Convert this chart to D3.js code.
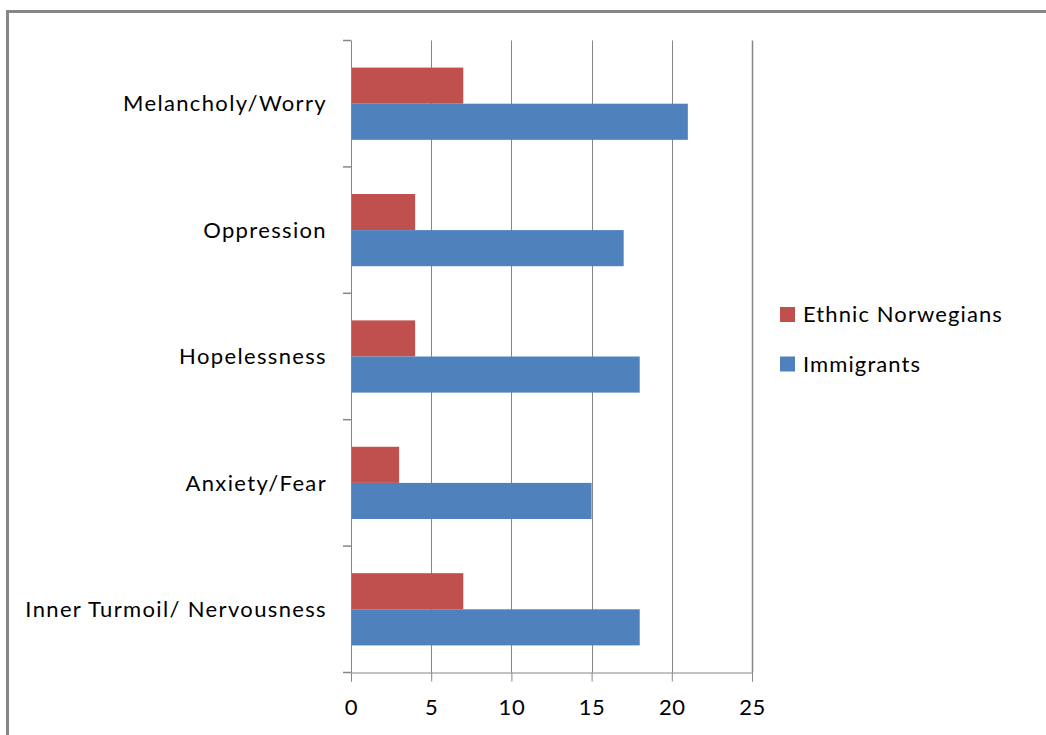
<!DOCTYPE html>
<html>
<head>
<meta charset="utf-8">
<script src="https://cdn.jsdelivr.net/npm/d3@7"></script>
<style>
  html, body { margin: 0; padding: 0; background: #fff; }
  svg text { font-family: Lato, "Open Sans", sans-serif; fill: #000; }
</style>
</head>
<body>
<svg id="chart" width="1046" height="735"></svg>
<script>
// Symptom categories, top to bottom
const categories = [
  "Melancholy/Worry",
  "Oppression",
  "Hopelessness",
  "Anxiety/Fear",
  "Inner Turmoil/ Nervousness"
];
const seriesNames = ["Ethnic Norwegians", "Immigrants"];
const ethnicNorwegians = [7, 4, 4, 3, 7];
const immigrants = [21, 17, 18, 15, 18];
const xTicks = [0, 5, 10, 15, 20, 25];
const seriesColors = ["#c0504d", "#4f81bd"];

const svg = d3.select("#chart");
const gridColor = "#868686";

// outer frame
svg.append("rect")
  .attr("x", 7.5).attr("y", 11.5)
  .attr("width", 1100).attr("height", 800)
  .attr("fill", "none").attr("stroke", gridColor).attr("stroke-width", 3);

const plot = { left: 351, right: 752, top: 40.5, bottom: 672.5 };

const x = d3.scaleLinear().domain([0, 25]).range([plot.left, plot.right]);
const y0 = d3.scaleBand().domain(categories).range([plot.top, plot.bottom]).padding(0);
const y1 = d3.scaleBand().domain(seriesNames).range([0, y0.bandwidth()])
  .paddingInner(0).paddingOuter(0.75);

const rows = categories.map((c, i) => ({
  category: c,
  values: [
    { series: seriesNames[0], value: ethnicNorwegians[i] },
    { series: seriesNames[1], value: immigrants[i] }
  ]
}));

// vertical gridlines
svg.append("g")
  .selectAll("line")
  .data(xTicks.filter(t => t > 0))
  .join("line")
  .attr("x1", d => Math.round(x(d)) + 0.5).attr("x2", d => Math.round(x(d)) + 0.5)
  .attr("y1", plot.top).attr("y2", plot.bottom)
  .attr("stroke", gridColor).attr("stroke-width", d => d === 25 ? 1.5 : 1);

// bars
const groups = svg.append("g")
  .selectAll("g")
  .data(rows)
  .join("g")
  .attr("transform", d => `translate(0,${y0(d.category)})`);

groups.selectAll("rect")
  .data(d => d.values)
  .join("rect")
  .attr("x", x(0))
  .attr("y", d => y1(d.series))
  .attr("width", d => x(d.value) - x(0))
  .attr("height", y1.bandwidth())
  .attr("fill", (d, i) => seriesColors[i]);

// bottom value axis
const xAxis = d3.axisBottom(x).tickValues(xTicks).tickSize(9).tickPadding(18);
const gx = svg.append("g")
  .attr("transform", `translate(0,${plot.bottom})`)
  .call(xAxis);
gx.select(".domain").attr("stroke", gridColor);
gx.selectAll(".tick line").attr("stroke", gridColor);
gx.selectAll(".tick text").style("font-size", "22px")
  .style("letter-spacing", "0.6px")
  .style("font-family", "Lato, 'Open Sans', sans-serif").attr("fill", "#000");

// left category axis: tick marks on band boundaries
const boundaries = d3.range(categories.length + 1).map(i => plot.top + i * y0.step());
svg.append("line")
  .attr("x1", plot.left + 0.5).attr("x2", plot.left + 0.5)
  .attr("y1", plot.top).attr("y2", plot.bottom)
  .attr("stroke", gridColor);
svg.append("g").selectAll("line")
  .data(boundaries)
  .join("line")
  .attr("x1", plot.left - 8).attr("x2", plot.left)
  .attr("y1", d => d).attr("y2", d => d)
  .attr("stroke", gridColor).attr("stroke-width", 1.5);

svg.append("g").selectAll("text")
  .data(categories)
  .join("text")
  .attr("x", 327)
  .attr("y", d => y0(d) + y0.bandwidth() / 2)
  .attr("dy", "0.35em")
  .attr("text-anchor", "end")
  .style("font-size", "22px")
  .style("letter-spacing", "1.35px")
  .text(d => d);

// legend
const legend = svg.append("g").attr("transform", "translate(780,307)");
const items = legend.selectAll("g")
  .data(seriesNames)
  .join("g")
  .attr("transform", (d, i) => `translate(0,${i * 49.5})`);
items.append("rect")
  .attr("width", 15).attr("height", 15)
  .attr("fill", (d, i) => seriesColors[i]);
items.append("text")
  .attr("x", 23).attr("y", 7.5).attr("dy", "0.35em")
  .style("font-size", "22px")
  .style("letter-spacing", "1.1px")
  .text(d => d);
</script>
</body>
</html>
